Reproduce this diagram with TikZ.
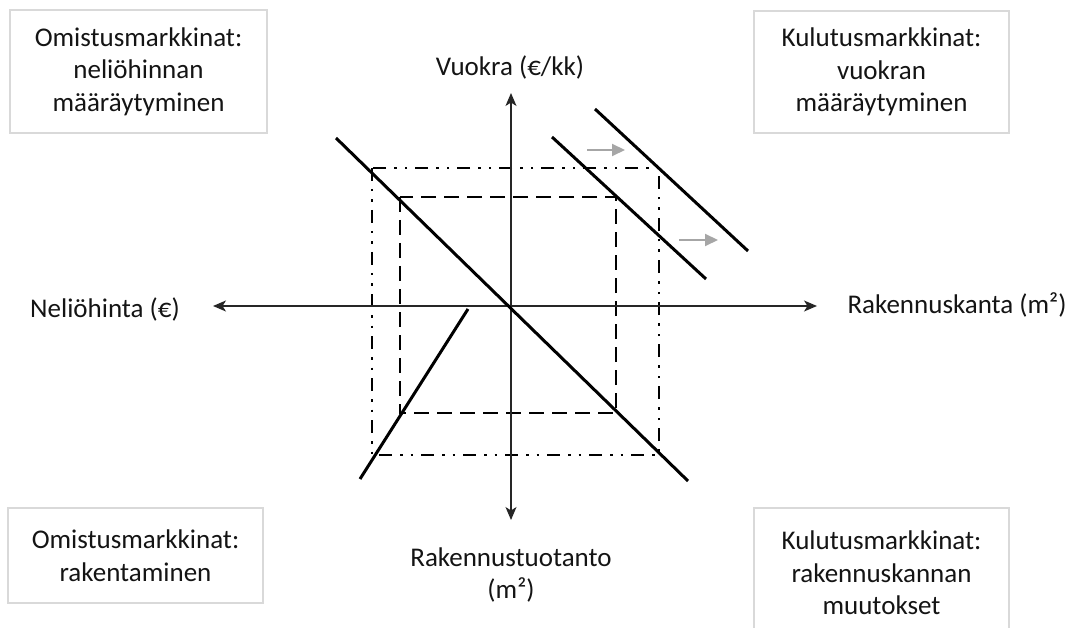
\documentclass[tikz,border=0pt]{standalone}
\usepackage{fontspec}
\setmainfont{Carlito}
\usetikzlibrary{arrows.meta}
\definecolor{boxgray}{HTML}{D9D9D9}
\definecolor{txt}{HTML}{141414}
\definecolor{shiftgray}{HTML}{A6A6A6}
\begin{document}
\begin{tikzpicture}[x=1pt,y=-1pt,
  lbl/.style={font=\fontsize{27}{32.5}\selectfont, text=txt, align=center, inner sep=0pt},
  infobox/.style={lbl, draw=boxgray, line width=2pt, fill=white},
  axis/.style={line width=1.3pt, draw=black!85, {Stealth[length=13pt,width=11pt,inset=3.5pt]}-{Stealth[length=13pt,width=11pt,inset=3.5pt]}},
  curve/.style={line width=3pt, draw=black},
  dashrect/.style={line width=2.4pt, draw=black, dash pattern=on 15pt off 8pt},
  dotrect/.style={line width=2.4pt, draw=black, dash pattern=on 13pt off 8pt on 2.5pt off 8pt on 2.5pt off 8pt},
  shiftarrow/.style={line width=2pt, draw=shiftgray, -{Triangle[length=13pt,width=12pt]}}
]
\useasboundingbox (0,0) rectangle (1073,628);
\begin{scope}
\clip (0,0) rectangle (1073,628);
\node[infobox, minimum width=257pt, minimum height=123pt] (tl) at (138.5,71.5) {Omistusmarkkinat:\\neliöhinnan\\määräytyminen};
\node[infobox, minimum width=255pt, minimum height=122pt] (tr) at (881.5,72) {Kulutusmarkkinat:\\vuokran\\määräytyminen};
\node[infobox, minimum width=255pt, minimum height=95pt] (bl) at (135.5,555.5) {Omistusmarkkinat:\\rakentaminen};
\node[infobox, minimum width=255pt, minimum height=130pt] (br) at (881.5,573) {Kulutusmarkkinat:\\rakennuskannan\\muutokset};
\end{scope}

% rectangles
\coordinate (o1) at (372,168); \coordinate (o2) at (659,455);
\coordinate (i1) at (400,197); \coordinate (i2) at (616,413);
\draw[dotrect] (o1) rectangle (o2);
\draw[dashrect] (i1) rectangle (i2);

% axes
\coordinate (xl) at (213,306); \coordinate (xr) at (817,306);
\coordinate (yt) at (511,93);  \coordinate (yb) at (511,520);
\draw[axis] (xl) -- (xr);
\draw[axis] (yb) -- (yt);

% curves
\coordinate (d1) at (336,138); \coordinate (d2) at (688,481);
\coordinate (c1) at (468,309); \coordinate (c2) at (360,479);
\coordinate (a1) at (552,137); \coordinate (a2) at (706,279);
\coordinate (b1) at (595,109); \coordinate (b2) at (748,251);
\draw[curve] (d1) -- (d2);
\draw[curve] (c1) -- (c2);
\draw[curve] (a1) -- (a2);
\draw[curve] (b1) -- (b2);

% shift arrows
\coordinate (s1a) at (587,150); \coordinate (s1b) at (625,150);
\coordinate (s2a) at (679,240); \coordinate (s2b) at (718,240);
\draw[shiftarrow] (s1a) -- (s1b);
\draw[shiftarrow] (s2a) -- (s2b);

% axis labels
\node[lbl] (vuokra) at (510,68) {Vuokra (€/kk)};
\node[lbl] (nelio) at (105,309) {Neliöhinta (€)};
\node[lbl] (kanta) at (957,305) {Rakennuskanta (m²)};
\node[lbl] (tuotanto) at (511,575) {Rakennustuotanto\\(m²)};
\end{tikzpicture}
\end{document}
